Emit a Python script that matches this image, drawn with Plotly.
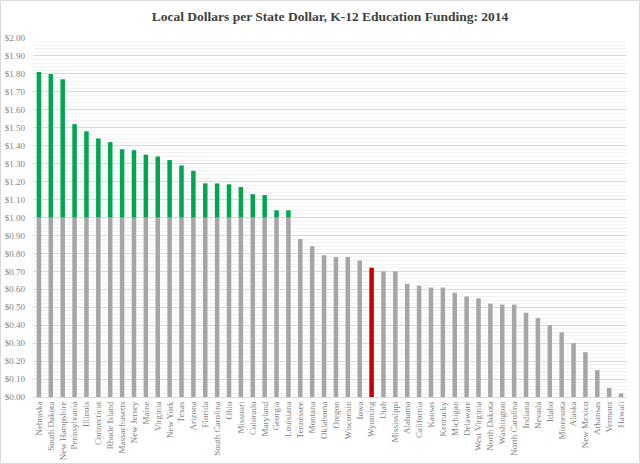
import plotly.graph_objects as go

states = ["Nebraska", "South Dakota", "New Hampshire", "Pennsylvania", "Illinois", "Connecticut",
          "Rhode Island", "Massachusetts", "New Jersey", "Maine", "Virginia", "New York", "Texas",
          "Arizona", "Florida", "South Carolina", "Ohio", "Missouri", "Colorado", "Maryland",
          "Georgia", "Louisiana", "Tennessee", "Montana", "Oklahoma", "Oregon", "Wisconsin", "Iowa",
          "Wyoming", "Utah", "Mississippi", "Alabama", "California", "Kansas", "Kentucky", "Michigan",
          "Delaware", "West Virginia", "North Dakota", "Washington", "North Carolina", "Indiana",
          "Nevada", "Idaho", "Minnesota", "Alaska", "New Mexico", "Arkansas", "Vermont", "Hawaii"]

local_per_state = [1.81, 1.80, 1.77, 1.52, 1.48, 1.44,
                   1.42, 1.38, 1.375, 1.35, 1.34, 1.32, 1.29,
                   1.26, 1.19, 1.19, 1.185, 1.17, 1.13, 1.125,
                   1.04, 1.04, 0.88, 0.84, 0.79, 0.78, 0.78, 0.76,
                   0.72, 0.70, 0.70, 0.63, 0.62, 0.61, 0.61, 0.58,
                   0.56, 0.55, 0.52, 0.515, 0.515, 0.47,
                   0.44, 0.40, 0.36, 0.30, 0.25, 0.15, 0.05, 0.02]

highlight = "Wyoming"
parity = 1.0

GRAY = "#a6a6a6"
GREEN = "#00a651"
RED = "#c00000"

base_vals = [min(v, parity) for v in local_per_state]
excess_vals = [max(v - parity, 0) for v in local_per_state]
base_colors = [RED if s == highlight else GRAY for s in states]

fig = go.Figure()
fig.add_trace(go.Bar(x=states, y=base_vals, marker=dict(color=base_colors, line=dict(width=0)),
                     hoverinfo="x+y"))
fig.add_trace(go.Bar(x=states, y=excess_vals, marker=dict(color=GREEN, line=dict(width=0)),
                     base=base_vals, hoverinfo="x+y"))

fig.update_layout(
    width=640, height=464,
    margin=dict(l=33, r=13, t=38, b=67),
    paper_bgcolor="white", plot_bgcolor="white",
    barmode="overlay", bargap=0.62, showlegend=False,
    title=dict(text="<b>Local Dollars per State Dollar, K-12 Education Funding: 2014</b>",
               x=0.5, xref="paper", y=1 - 16.5 / 464, yanchor="middle",
               font=dict(family="Liberation Serif", size=13.5, color="#404040")),
    font=dict(family="Liberation Serif", size=9, color="#7f7f7f"),
)
fig.update_xaxes(type="category", tickangle=-90, tickfont=dict(size=9, color="#7f7f7f"),
                 showline=True, linecolor="#d9d9d9", linewidth=1, ticks="", showgrid=False,
                 automargin=False)
fig.update_yaxes(range=[0, 2.0], dtick=0.1, tickprefix="$", tickformat=".2f",
                 tickfont=dict(size=9, color="#7f7f7f"),
                 showgrid=True, gridcolor="#d9d9d9", gridwidth=1, zeroline=False,
                 minor=dict(dtick=0.02, showgrid=True, gridcolor="#f2f2f2", gridwidth=1),
                 ticks="", ticklabelstandoff=7, automargin=False)

# chart border
fig.add_shape(type="rect", xref="paper", yref="paper",
              x0=-32.5 / 594, x1=(639.5 - 33) / 594, y0=-(463.5 - 397) / 359, y1=(397 - 0.5) / 359,
              line=dict(color="#d9d9d9", width=1), fillcolor="rgba(0,0,0,0)", layer="below")

fig.write_html("out.html", config={"displayModeBar": False},
               post_script="document.body.style.margin='0';")
